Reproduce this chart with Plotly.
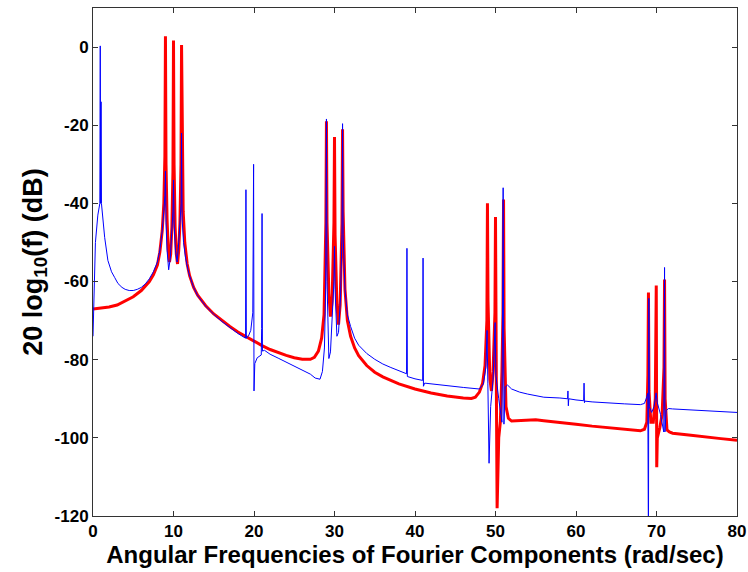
import plotly.graph_objects as go

# spectrum (dB against rad/sec)
red_x = [0, 1, 2, 3, 4, 5, 6, 7, 7.5, 8, 8.3, 8.6, 8.8, 8.93, 9.0, 9.07, 9.2, 9.35, 9.5, 9.65, 9.8, 9.93,
         10.0, 10.07, 10.2, 10.35, 10.5, 10.65, 10.8, 10.93, 11.0, 11.07, 11.2, 11.4, 11.7, 12, 12.5, 13,
         14, 15, 16, 17, 18, 19, 20, 21, 22, 23, 24, 25, 26, 27, 27.5, 28, 28.4, 28.7, 28.93, 29.0, 29.07,
         29.3, 29.5, 29.7, 29.93, 30.0, 30.07, 30.3, 30.5, 30.7, 30.93, 31.0, 31.07, 31.3, 31.6, 32, 32.5,
         33, 34, 35, 36, 38, 40, 42, 44, 46, 47, 47.5, 48, 48.4, 48.7, 48.93, 49.0, 49.07, 49.3, 49.5, 49.7,
         49.93, 50.0, 50.1, 50.2, 50.4, 50.6, 50.8, 50.93, 51.0, 51.07, 51.3, 51.6, 52, 53, 54, 55, 56, 58,
         60, 62, 64, 66, 68, 68.5, 68.8, 68.93, 69.0, 69.07, 69.3, 69.6, 69.85, 69.97, 70.03, 70.1, 70.4,
         70.7, 70.93, 71.0, 71.07, 71.3, 71.6, 72, 74, 76, 78, 80]
red_db = [-67, -66.8, -66.5, -66, -65, -63.9, -62.3, -60, -58.3, -55.8, -52.5, -47, -40, -28, 2.8, -30, -44,
          -52, -55, -53, -46, -32, 1.7, -30, -46, -53, -55.5, -52, -45, -30, 0.5, -24, -42, -50, -55.5, -58.5,
          -61.5, -63.5, -66.2, -68.3, -70, -71.5, -72.9, -74.1, -75.3, -76.4, -77.4, -78.2, -78.9, -79.5,
          -79.9, -79.9, -79.4, -77.8, -74.5, -68.5, -45, -19, -45, -63, -69, -65, -45, -23, -48, -66, -71,
          -66, -45, -21, -42, -62, -70, -74, -77, -79, -81.5, -83.2, -84.4, -86.2, -87.5, -88.5, -89.3,
          -89.8, -89.9, -89.6, -88.3, -86, -81.5, -70, -40, -65, -85, -88, -83, -68, -43.5, -85, -118, -100,
          -96, -83, -68, -39, -72, -92, -95, -95.7, -95.6, -95.4, -95.4, -95.6, -96, -96.5, -97, -97.4,
          -97.8, -98.2, -97.8, -96, -84, -62.8, -88, -96, -96, -90, -61, -107.5, -100, -97.5, -94, -82,
          -59.5, -90, -98, -98.5, -98.8, -99.3, -99.8, -100.2, -100.6]

blue_x = [0, 0.3, 0.6, 0.85, 0.9, 0.95, 1.0, 1.05, 1.2, 1.45, 1.85, 2.3, 2.7, 3.1, 3.6, 4, 4.5, 5, 5.5, 6,
          6.5, 7, 7.5, 8, 8.3, 8.6, 8.8, 8.93, 9.0, 9.07, 9.2, 9.4, 9.6, 9.8, 9.93, 10.0, 10.07, 10.25,
          10.45, 10.65, 10.85, 10.95, 11.0, 11.07, 11.25, 11.5, 11.8, 12, 12.5, 13, 14, 15, 16, 17, 18,
          18.95, 19.0, 19.05, 19.3, 19.6, 19.85, 19.95, 20.0, 20.1, 20.4, 20.9, 20.95, 21.0, 21.05, 21.3,
          22, 23, 24, 25, 26, 27, 27.6, 28.2, 28.5, 28.75, 28.9, 29.0, 29.07, 29.3, 29.5, 29.75, 29.93,
          30.0, 30.07, 30.3, 30.5, 30.75, 30.93, 31.0, 31.07, 31.3, 31.6, 32, 32.5, 33, 34, 35, 36, 37, 38,
          38.95, 39.0, 39.05, 40, 40.95, 41.0, 41.05, 41.2, 42, 44, 46, 48, 48.5, 48.8, 48.95, 49.05, 49.2,
          49.4, 49.7, 49.95, 50.05, 50.4, 50.8, 50.95, 51.05, 51.2, 51.5, 52, 53, 54, 55, 56, 58, 58.95,
          59.0, 59.05, 59.1, 60, 60.95, 61.0, 61.05, 61.1, 62, 64, 66, 68, 68.5, 68.8, 68.92, 69.0, 69.05,
          69.1, 69.4, 69.7, 69.95, 70.1, 70.5, 70.9, 71.0, 71.05, 71.2, 71.5, 72, 74, 76, 78, 80]
blue_db = [-74, -50, -43, -40, 0.3, -40, -14, -40, -44, -48.7, -54.6, -57.5, -59, -60.5, -61.5, -62, -62.3,
           -62.3, -62, -61.5, -60.6, -59.3, -57.5, -55, -52, -47, -42, -38, -31.7, -45, -52, -57, -54, -48,
           -42, -34, -45, -52, -55, -50, -44, -40, -22, -44, -50, -54, -57, -58.5, -61.5, -63.6, -66.3,
           -68.4, -70.2, -71.8, -73.3, -74.5, -36.5, -74.5, -74, -72.5, -68, -30, -88, -81, -79.5, -78.8,
           -72, -42.6, -77.8, -77.6, -78.6, -79.6, -80.6, -81.5, -82.6, -83.7, -84.7, -85, -83, -77, -62,
           -18.4, -60, -79.7, -78, -68, -60, -51, -62, -74, -73, -64, -48, -19.6, -48, -62, -68.5, -71.5,
           -74.5, -76.3, -78.4, -79.9, -81.1, -82, -82.8, -83.6, -51.5, -84.3, -84.9, -85.3, -54, -86.8,
           -86, -86.2, -86.7, -87.1, -87.5, -86.2, -82, -72.5, -86, -106.5, -92, -85, -70.5, -84, -90, -96,
           -36, -96.5, -87, -86.5, -87.5, -88.3, -88.8, -89.3, -89.6, -89.8, -90, -88, -91.8, -90, -90.3,
           -90.5, -86, -91, -90.6, -90.8, -91.1, -91.3, -91.5, -91.2, -89.5, -88.6, -130, -64.3, -92, -93.5,
           -92, -88.5, -91, -94, -98.5, -56.4, -98.5, -93, -92.5, -92.6, -92.8, -93, -93.2, -93.5]

x_ticks = [0, 10, 20, 30, 40, 50, 60, 70, 80]
x_tick_labels = ['0', '10', '20', '30', '40', '50', '60', '70', '80']
y_ticks = [-120, -100, -80, -60, -40, -20, 0]
y_tick_labels = ['-120', '-100', '-80', '-60', '-40', '-20', '0']

fig = go.Figure()
fig.add_trace(go.Scatter(x=red_x, y=red_db, mode='lines',
                         line=dict(color='#ff0000', width=3), showlegend=False))
fig.add_trace(go.Scatter(x=blue_x, y=blue_db, mode='lines',
                         line=dict(color='#0000ff', width=1), showlegend=False))

tick_font = dict(size=17, family="Liberation Sans", color='black', weight='bold')

fig.update_layout(
    width=748, height=572,
    margin=dict(l=93, r=11, t=8, b=56, autoexpand=False),
    paper_bgcolor='white', plot_bgcolor='white',
    font=dict(family="Liberation Sans", size=17, color='black'),
    xaxis=dict(range=[0, 80], tickvals=x_ticks, ticktext=x_tick_labels, showgrid=False, zeroline=False,
               showline=True, linecolor='#333333', linewidth=1, mirror='ticks',
               ticks='inside', ticklen=5, tickcolor='#333333', tickfont=tick_font,
               title=dict(text='Angular Frequencies of Fourier Components (rad/sec)',
                          font=dict(size=24, family="Liberation Sans", color='black', weight='bold'),
                          standoff=2)),
    yaxis=dict(range=[-120, 10], tickvals=y_ticks, ticktext=y_tick_labels, showgrid=False, zeroline=False,
               showline=True, linecolor='#333333', linewidth=1, mirror='ticks',
               ticks='inside', ticklen=5, tickcolor='#333333', tickfont=tick_font,
               title=dict(text='20 log<sub>10</sub>(f) (dB)',
                          font=dict(size=27, family="Liberation Sans", color='black', weight='bold'),
                          standoff=4)),
)

# drop the browser's default 8px body margin so the figure sits at the page corner
fig.write_html("out.html", config={'displayModeBar': False},
               post_script="document.body.style.margin='0';document.body.style.overflow='hidden';")
